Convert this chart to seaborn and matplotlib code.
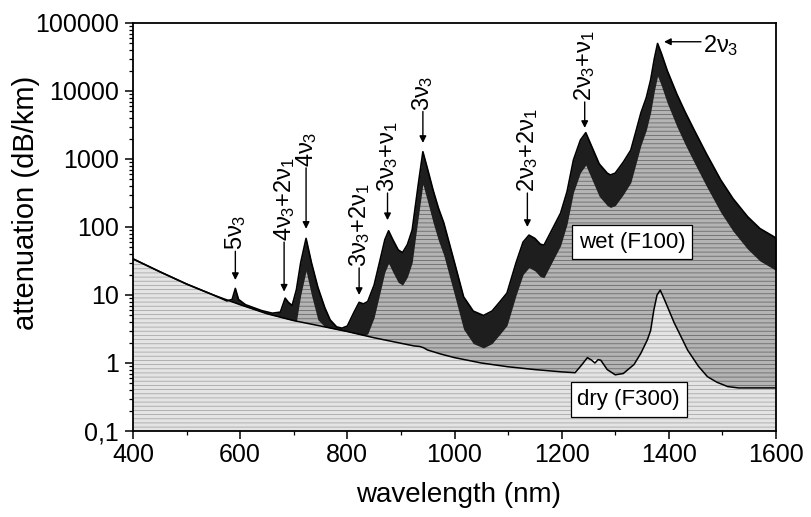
import numpy as np
import pandas as pd
import matplotlib
matplotlib.use("Agg")
import matplotlib.pyplot as plt
import seaborn as sns

# ---------------- data ----------------
wet_nm = [400, 450, 500, 550, 575, 585, 591, 597, 610, 640, 660, 675, 684, 690, 697,
          705, 713, 723, 733, 745, 758, 768, 780, 790, 800, 812, 822, 830, 838, 850,
          862, 870, 877, 885, 895, 903, 912, 921, 932, 941, 950, 960, 970, 980, 1000,
          1017, 1035, 1054, 1070, 1085, 1098, 1115, 1128, 1139, 1150, 1160, 1167, 1180,
          1198, 1210, 1222, 1235, 1245, 1255, 1270, 1285, 1291, 1300, 1315, 1329, 1340,
          1348, 1358, 1366, 1373, 1379, 1386, 1397, 1415, 1430, 1447, 1470, 1497, 1520,
          1547, 1570, 1596, 1600]
wet_db = [34, 22, 14.5, 10, 8.2, 8.6, 12.5, 8.6, 7.2, 5.9, 5.4, 5.6, 9.0, 7.8, 7.0,
          12, 30, 68, 30, 13, 6.5, 4.3, 3.4, 3.25, 3.5, 5.5, 7.8, 7.4, 8.0, 14,
          35, 65, 88, 65, 46, 42, 55, 90, 400, 1280, 700, 350, 190, 115, 30,
          9.4, 5.8, 5.0, 5.8, 8.0, 10.7, 30, 60, 76, 68, 56, 54, 85,
          160, 330, 970, 1900, 2440, 1600, 850, 620, 582, 620, 900, 1350, 2800,
          4800, 8000, 14500, 30000, 50000, 36000, 20000, 9000, 5000, 2700, 1200, 490, 260,
          142, 95, 72, 68]

dry_nm = [400, 450, 500, 550, 600, 650, 700, 750, 800, 850, 900, 925, 935, 942, 950,
          975, 1000, 1050, 1100, 1150, 1200, 1225, 1238, 1248, 1256, 1262, 1268, 1273,
          1285, 1300, 1315, 1335, 1348, 1360, 1366, 1372, 1378, 1384, 1392, 1410, 1435,
          1455, 1472, 1490, 1510, 1530, 1600]
dry_db = [34, 22, 14.5, 10, 7.2, 5.3, 4.2, 3.5, 2.9, 2.35, 1.95, 1.78, 1.75, 1.68, 1.55,
          1.35, 1.2, 1.0, 0.88, 0.8, 0.74, 0.72, 0.95, 1.2, 1.1, 1.0, 1.12, 1.1,
          0.8, 0.67, 0.7, 0.95, 1.4, 2.2, 3.0, 6.0, 10, 11.8, 8.5, 3.9, 1.55,
          0.9, 0.63, 0.52, 0.45, 0.43, 0.43]

# annotations: label, wavelength, arrow start (text bottom), arrow tip
ann_labels = [r"$5\nu_3$", r"$4\nu_3{+}2\nu_1$", r"$4\nu_3$", r"$3\nu_3{+}2\nu_1$",
              r"$3\nu_3{+}\nu_1$", r"$3\nu_3$", r"$2\nu_3{+}2\nu_1$", r"$2\nu_3{+}\nu_1$"]
ann_x = [591, 682, 723, 822, 875, 941, 1136, 1243]
ann_start = [44, 60, 740, 25, 316, 5000, 316, 6900]
ann_tip = [16.6, 11.2, 94, 10, 126, 1720, 100, 2860]

xticks = [400, 600, 800, 1000, 1200, 1400, 1600]
yticks = [0.1, 1, 10, 100, 1000, 10000, 100000]
yticklabels = ["0,1", "1", "10", "100", "1000", "10000", "100000"]

# ---------------- styling ----------------
sns.set_theme(style="ticks")
plt.rcParams["font.family"] = ["Liberation Sans", "DejaVu Sans"]
plt.rcParams["mathtext.fontset"] = "custom"
plt.rcParams["mathtext.rm"] = "Liberation Sans"
plt.rcParams["mathtext.it"] = "Liberation Sans"
plt.rcParams["mathtext.bf"] = "Liberation Sans:bold"
plt.rcParams["hatch.linewidth"] = 0.6

fig = plt.figure(figsize=(8.11, 5.17), dpi=100)
ax = fig.add_axes([133 / 811, 86 / 517, 643 / 811, 408 / 517])

wet = pd.DataFrame({"nm": wet_nm, "db": wet_db})
dry = pd.DataFrame({"nm": dry_nm, "db": dry_db})

# shading (mimicking the scanned dither)
dry_on_wet = 10 ** np.interp(wet["nm"], dry["nm"], np.log10(dry["db"]))
ax.fill_between(dry["nm"], 0.1, dry["db"], facecolor="#e4e4e4", edgecolor="#a8a8a8",
                hatch="----", lw=0, zorder=1)
ax.fill_between(wet["nm"], dry_on_wet, wet["db"], facecolor="#b4b4b4",
                edgecolor="#6a6a6a", hatch="----", lw=0, zorder=1)
band_low = np.maximum(wet["db"] / 3.0, dry_on_wet)
ax.fill_between(wet["nm"], band_low, wet["db"], color="#1e1e1e", lw=0, zorder=2)

sns.lineplot(data=wet, x="nm", y="db", ax=ax, color="black", lw=1.2, sort=False,
             estimator=None, zorder=3)
sns.lineplot(data=dry, x="nm", y="db", ax=ax, color="black", lw=1.1, sort=False,
             estimator=None, zorder=3)

ax.set_yscale("log")
ax.set_xlim(400, 1600)
ax.set_ylim(0.1, 100000)
ax.set_xticks(xticks)
ax.set_xticks(np.arange(500, 1600, 200), minor=True)
ax.set_xticklabels([str(t) for t in xticks])
ax.set_yticks(yticks)
ax.set_yticklabels(yticklabels)
ax.tick_params(axis="both", which="major", labelsize=18, length=6, width=1.1,
               direction="out", color="black", labelcolor="black", pad=3)
ax.tick_params(axis="both", which="minor", length=3, width=0.9, direction="out",
               color="black")
ax.tick_params(axis="y", which="major", pad=4)
for s in ax.spines.values():
    s.set_visible(True)
    s.set_color("black")
    s.set_linewidth(1.3)

ax.set_xlabel("wavelength (nm)", fontsize=20, color="black")
ax.set_ylabel("attenuation (dB/km)", fontsize=21, color="black")
ax.xaxis.set_label_coords(0.506, -0.125)
ax.yaxis.set_label_coords(-0.145, 0.56)

# peak labels with arrows
for lab, x, y0, y1 in zip(ann_labels, ann_x, ann_start, ann_tip):
    ax.annotate("", xy=(x, y1), xytext=(x, y0),
                arrowprops=dict(arrowstyle="-|>", color="black", lw=1.0,
                                mutation_scale=10, shrinkA=0, shrinkB=0), zorder=5)
    ax.text(x, y0 * 1.03, lab, rotation=90, ha="center", va="bottom",
            fontsize=17, color="black", zorder=5)

ax.annotate("", xy=(1391, 53000), xytext=(1460, 53000),
            arrowprops=dict(arrowstyle="-|>", color="black", lw=1.0,
                            mutation_scale=10, shrinkA=0, shrinkB=0), zorder=5)
ax.text(1464, 47000, r"$2\nu_3$", ha="left", va="center", fontsize=17,
        color="black", zorder=5)

box = dict(boxstyle="square,pad=0.3", fc="white", ec="black", lw=0.9)
ax.text(1331, 60, "wet (F100)", ha="center", va="center", fontsize=16,
        color="black", bbox=box, zorder=6)
ax.text(1325, 0.29, "dry (F300)", ha="center", va="center", fontsize=16,
        color="black", bbox=box, zorder=6)

fig.savefig("out.png", dpi=100)
